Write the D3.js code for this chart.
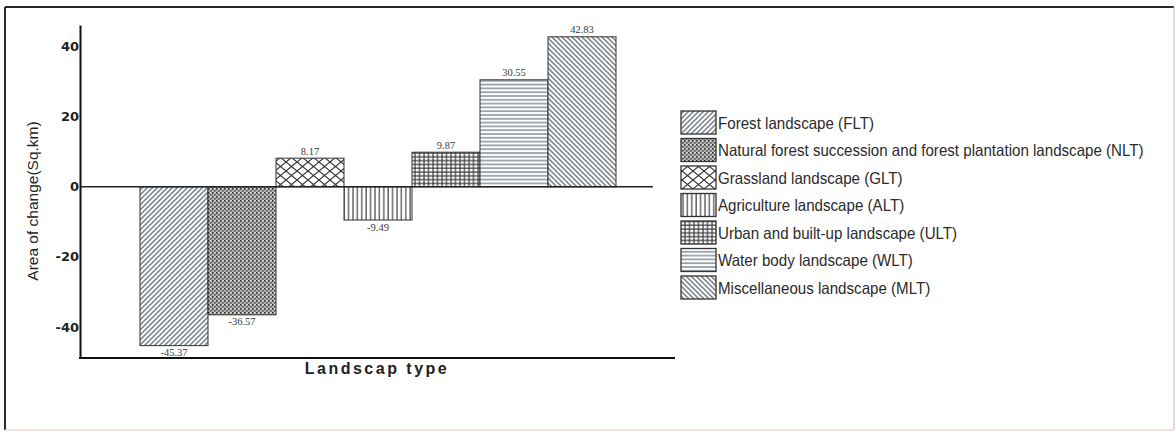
<!DOCTYPE html>
<html>
<head>
<meta charset="utf-8">
<script src="https://cdn.jsdelivr.net/npm/d3@7"></script>
<style>
  html, body { margin: 0; padding: 0; background: #fff; }
  svg { display: block; }
</style>
</head>
<body>
<script>
const categories = ["FLT", "NLT", "GLT", "ALT", "ULT", "WLT", "MLT"];
const legendLabels = [
  "Forest landscape (FLT)",
  "Natural forest succession and forest plantation landscape (NLT)",
  "Grassland landscape (GLT)",
  "Agriculture landscape (ALT)",
  "Urban and built-up landscape (ULT)",
  "Water body landscape (WLT)",
  "Miscellaneous landscape (MLT)"
];
const values = [-45.37, -36.57, 8.17, -9.49, 9.87, 30.55, 42.83];
const valueLabels = ["-45.37", "-36.57", "8.17", "-9.49", "9.87", "30.55", "42.83"];
const yTicks = [-40, -20, 0, 20, 40];
const yTickLabels = ["-40", "-20", "0", "20", "40"];
const xTitle = "Landscap type";
const yTitle = "Area of change(Sq.km)";

const W = 1176, H = 432;
const svg = d3.select("body").append("svg").attr("width", W).attr("height", H);
const defs = svg.append("defs");

function pat(id, w, h, draw) {
  const p = defs.append("pattern").attr("id", id).attr("patternUnits", "userSpaceOnUse")
    .attr("width", w).attr("height", h);
  p.append("rect").attr("width", w).attr("height", h).attr("fill", "#fff");
  draw(p);
}
// FLT: forward diagonal
pat("p0", 5, 5, p => {
  p.append("path").attr("d", "M-1,6 L6,-1 M-1,1 L1,-1 M4,6 L6,4").attr("stroke", "#858d93").attr("stroke-width", 1.7);
});
// NLT: dense dotted check
pat("p1", 4, 4, p => {
  p.select("rect").attr("fill", "#b0b0b0");
  p.append("rect").attr("x", 0).attr("y", 0).attr("width", 1.6).attr("height", 1.6).attr("fill", "#2e2e2e");
  p.append("rect").attr("x", 2).attr("y", 2).attr("width", 1.6).attr("height", 1.6).attr("fill", "#505050");
  p.append("rect").attr("x", 2).attr("y", 0).attr("width", 1.2).attr("height", 1.2).attr("fill", "#eee");
});
// GLT: diamond crosshatch
pat("p2", 11, 9, p => {
  p.append("path").attr("d", "M0,0 L11,9 M11,0 L0,9").attr("stroke", "#333").attr("stroke-width", 1.1);
});
// ALT: vertical lines
pat("p3", 4.4, 4, p => {
  p.append("path").attr("d", "M1,0 L1,4").attr("stroke", "#5e5e5e").attr("stroke-width", 1.4);
});
// ULT: grid
pat("p4", 4.5, 3.8, p => {
  p.append("path").attr("d", "M1,0 L1,3.8 M0,1 L4.5,1").attr("stroke", "#333").attr("stroke-width", 1.1);
});
// WLT: horizontal lines
pat("p5", 4, 3.8, p => {
  p.append("path").attr("d", "M0,1 L4,1").attr("stroke", "#7a8891").attr("stroke-width", 1.4);
});
// MLT: back diagonal
pat("p6", 5, 5, p => {
  p.append("path").attr("d", "M-1,-1 L6,6 M4,-1 L6,1 M-1,4 L1,6").attr("stroke", "#858d93").attr("stroke-width", 1.7);
});

// Outer frame
svg.append("line").attr("x1", 5).attr("x2", 1174).attr("y1", 7).attr("y2", 7).attr("stroke", "#2a2a2a").attr("stroke-width", 2.2);
svg.append("line").attr("x1", 5).attr("x2", 5).attr("y1", 7).attr("y2", 430).attr("stroke", "#2a2a2a").attr("stroke-width", 2);
svg.append("line").attr("x1", 1174).attr("x2", 1174).attr("y1", 7).attr("y2", 430).attr("stroke", "#c8c8c8").attr("stroke-width", 1.2);
svg.append("line").attr("x1", 5).attr("x2", 1174).attr("y1", 430).attr("y2", 430).attr("stroke", "#f0d6d2").attr("stroke-width", 1.5);

// Scales
const y = d3.scaleLinear().domain([-48.9, 46.2]).range([358, 25]);
const x = d3.scaleBand().domain(categories).range([140, 616]).padding(0);

const plotLeft = 80, axisRight = 675, zeroRight = 653;

// Bars
svg.append("g").selectAll("rect").data(values).join("rect")
  .attr("x", (d, i) => x(categories[i]))
  .attr("width", x.bandwidth())
  .attr("y", d => y(Math.max(0, d)))
  .attr("height", d => Math.abs(y(d) - y(0)))
  .attr("fill", (d, i) => `url(#p${i})`)
  .attr("stroke", "#333")
  .attr("stroke-width", 1);

// Zero line
svg.append("line").attr("x1", plotLeft).attr("x2", zeroRight).attr("y1", y(0)).attr("y2", y(0))
  .attr("stroke", "#222").attr("stroke-width", 1.5);

// Value labels
svg.append("g").selectAll("text").data(values).join("text")
  .attr("x", (d, i) => x(categories[i]) + x.bandwidth() / 2)
  .attr("y", d => d >= 0 ? y(d) - 3.5 : y(d) + 10.5)
  .attr("text-anchor", "middle")
  .attr("font-family", "'Liberation Serif', 'Times New Roman', serif")
  .attr("font-size", 10.5)
  .attr("fill", "#3a3a3a")
  .text((d, i) => valueLabels[i]);

// Y axis
const yAxis = d3.axisLeft(y).tickValues(yTicks).tickFormat((d, i) => yTickLabels[i]).tickSize(0).tickPadding(1);
const gy = svg.append("g").attr("transform", `translate(${plotLeft},0)`).call(yAxis);
gy.select(".domain").attr("stroke", "#111").attr("stroke-width", 2);
gy.selectAll("text").attr("font-family", "'DejaVu Sans', sans-serif").attr("font-weight", "bold")
  .attr("font-size", 13).attr("fill", "#222");

// X axis baseline
svg.append("line").attr("x1", plotLeft - 1).attr("x2", axisRight).attr("y1", 358).attr("y2", 358)
  .attr("stroke", "#111").attr("stroke-width", 2);

// Axis titles
svg.append("text").attr("x", 377).attr("y", 373.5).attr("text-anchor", "middle")
  .attr("font-family", "'Liberation Sans', Arial, sans-serif").attr("font-weight", "bold")
  .attr("font-size", 16).attr("letter-spacing", 2.5).attr("fill", "#222").text(xTitle);

svg.append("text").attr("transform", "translate(38,201) rotate(-90)").attr("text-anchor", "middle")
  .attr("font-family", "'Liberation Sans', Arial, sans-serif")
  .attr("font-size", 15.5).attr("fill", "#222").text(yTitle);

// Legend
const lg = svg.append("g");
const lx = 681, ly = 111, pitch = 27.5;
const legendTextMaxWidth = 426;
const texts = [];
legendLabels.forEach((lab, i) => {
  lg.append("rect").attr("x", lx).attr("y", ly + i * pitch).attr("width", 35).attr("height", 23)
    .attr("fill", `url(#p${i})`).attr("stroke", "#333").attr("stroke-width", 1.3);
  const t = lg.append("text")
    .attr("font-family", "'Liberation Sans', Arial, sans-serif")
    .attr("font-size", 16.5).attr("fill", "#2b2b2b").text(lab);
  texts.push({ t, i });
});
const maxW = d3.max(texts, o => o.t.node().getComputedTextLength());
const sx = Math.min(1, legendTextMaxWidth / maxW);
texts.forEach(({ t, i }) => {
  t.attr("transform", `translate(${lx + 37},${ly + i * pitch + 17.5}) scale(${sx},1)`);
});
</script>
</body>
</html>
